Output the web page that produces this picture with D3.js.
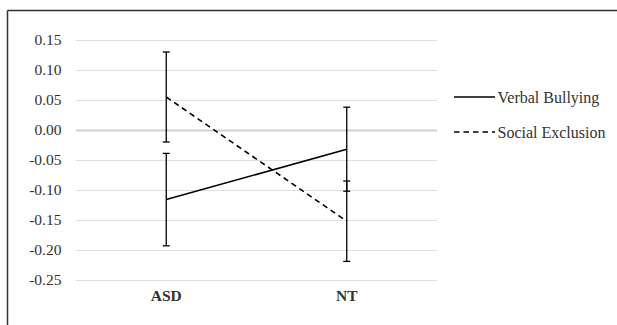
<!DOCTYPE html>
<html>
<head>
<meta charset="utf-8">
<script src="https://cdn.jsdelivr.net/npm/d3@7"></script>
<style>
  html, body { margin: 0; padding: 0; background: #fff; }
  svg { display: block; }
  svg text { font-family: "Liberation Serif", "Times New Roman", "DejaVu Serif", serif; }
</style>
</head>
<body>
<svg id="chart" width="617" height="325"></svg>
<script>
const categories = ["ASD", "NT"];
const seriesNames = ["Verbal Bullying", "Social Exclusion"];
const verbalBullying = [-0.116, -0.032];
const verbalBullyingErr = [0.077, 0.070];
const socialExclusion = [0.055, -0.152];
const socialExclusionErr = [0.075, 0.067];
const yTicks = [0.15, 0.10, 0.05, 0.00, -0.05, -0.10, -0.15, -0.20, -0.25];

const series = [
  { name: seriesNames[0], values: verbalBullying, errs: verbalBullyingErr, dash: null },
  { name: seriesNames[1], values: socialExclusion, errs: socialExclusionErr, dash: "5.5,4" }
];

const svg = d3.select("#chart");
const plotLeft = 76, plotRight = 437, plotTop = 40, plotBottom = 280;
const serif = '"Liberation Serif", "Times New Roman", "DejaVu Serif", serif';

const x = d3.scaleBand().domain(categories).range([plotLeft, plotRight]).padding(0);
const y = d3.scaleLinear().domain([-0.25, 0.15]).range([plotBottom, plotTop]);
const cx = c => x(c) + x.bandwidth() / 2;

// frame (top and left edges visible)
svg.append("line").attr("x1", 7.5).attr("x2", 617).attr("y1", 10.5).attr("y2", 10.5)
  .attr("stroke", "#333").attr("stroke-width", 1.5);
svg.append("line").attr("x1", 7.5).attr("x2", 7.5).attr("y1", 10.5).attr("y2", 325)
  .attr("stroke", "#333").attr("stroke-width", 1.5);

// gridlines
svg.append("g").selectAll("line").data(yTicks).join("line")
  .attr("x1", plotLeft).attr("x2", plotRight)
  .attr("y1", d => Math.round(y(d)) + 0.5).attr("y2", d => Math.round(y(d)) + 0.5)
  .attr("stroke", d => d === 0 ? "#cfcfcf" : "#dedede")
  .attr("stroke-width", d => d === 0 ? 2 : 1);

// y axis labels via d3 axis
const yAxis = d3.axisLeft(y).tickValues(yTicks)
  .tickFormat(d => d3.format(".2f")(d).replace("\u2212", "-")).tickSize(0).tickPadding(0);
const gy = svg.append("g").attr("transform", `translate(${61.5},0)`).call(yAxis);
gy.attr("font-family", null);
gy.select(".domain").remove();
gy.selectAll("text")
  .style("font-family", serif)
  .style("font-size", "15.5px").attr("fill", "#333");

// x axis labels
const xAxis = d3.axisBottom(x).tickSize(0).tickPadding(0);
const gx = svg.append("g").attr("transform", `translate(0,${290})`).call(xAxis);
gx.attr("font-family", null);
gx.select(".domain").remove();
gx.selectAll("text")
  .style("font-family", serif)
  .style("font-size", "15.5px").style("font-weight", "bold").attr("fill", "#333");

// series lines
const line = d3.line().x((d, i) => cx(categories[i])).y(d => y(d));
series.forEach(s => {
  svg.append("path").datum(s.values)
    .attr("d", line).attr("fill", "none")
    .attr("stroke", "#000").attr("stroke-width", 1.6)
    .attr("stroke-dasharray", s.dash);
});

// error bars
series.forEach(s => {
  const g = svg.append("g");
  s.values.forEach((v, i) => {
    const xc = cx(categories[i]);
    const hi = y(v + s.errs[i]), lo = y(v - s.errs[i]);
    g.append("line").attr("x1", xc).attr("x2", xc).attr("y1", hi).attr("y2", lo)
      .attr("stroke", "#000").attr("stroke-width", 1.3);
    [hi, lo].forEach(yy => {
      g.append("line").attr("x1", xc - 3.5).attr("x2", xc + 3.5).attr("y1", yy).attr("y2", yy)
        .attr("stroke", "#000").attr("stroke-width", 1.3);
    });
  });
});

// legend
const legendY = [97, 132];
series.forEach((s, i) => {
  const ly = legendY[i];
  svg.append("line").attr("x1", 454).attr("x2", 495).attr("y1", ly).attr("y2", ly)
    .attr("stroke", "#000").attr("stroke-width", 1.6)
    .attr("stroke-dasharray", s.dash);
  svg.append("text").attr("x", 497.5).attr("y", ly).attr("dy", "0.35em")
    .style("font-family", serif)
    .style("font-size", "16px").attr("fill", "#333").text(s.name);
});
</script>
</body>
</html>
